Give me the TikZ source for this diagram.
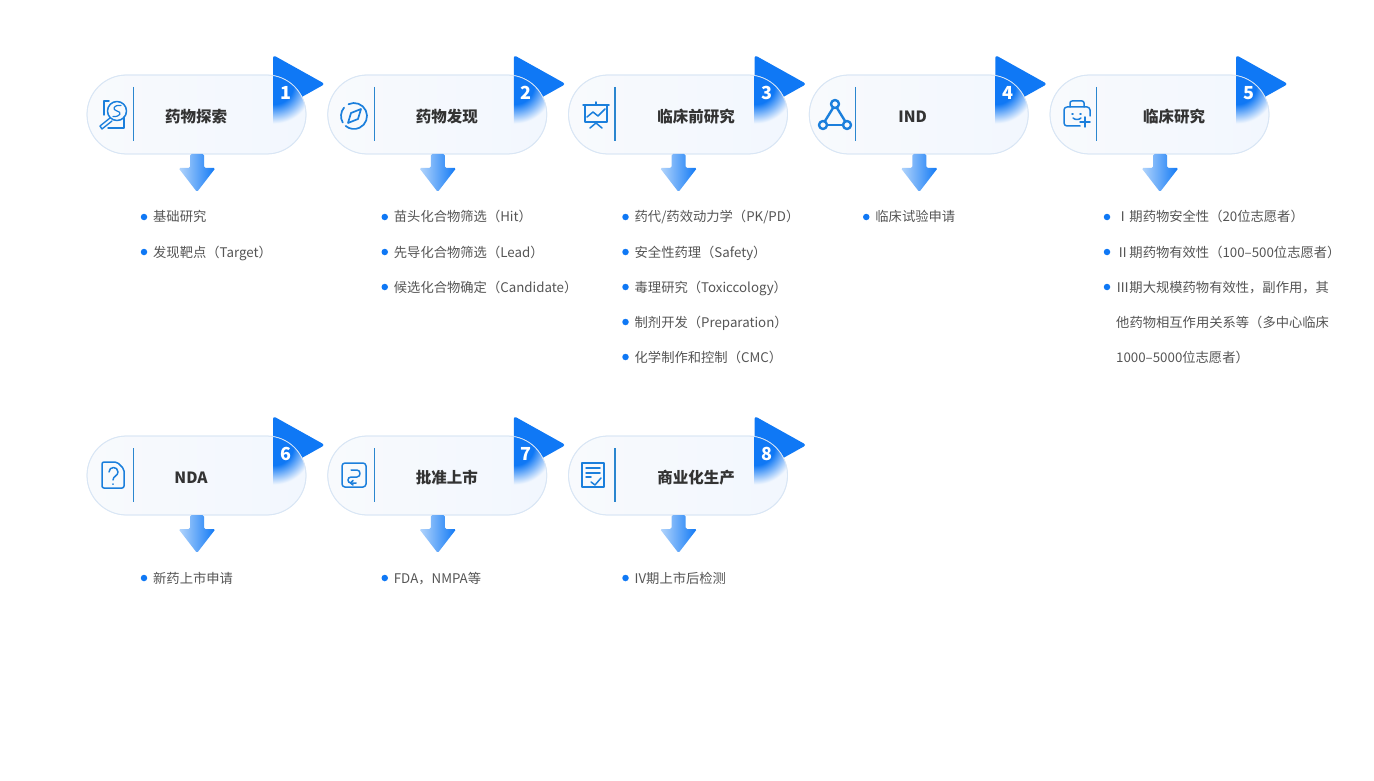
\documentclass[tikz,border=0pt]{standalone}
\usepackage{fontspec}
\usetikzlibrary{positioning}
\usetikzlibrary{calc}
\newfontfamily\cjk{Noto Sans CJK SC}
\definecolor{tabblue}{HTML}{0F78F5}
\definecolor{iconblue}{HTML}{1B7FDC}
\definecolor{lineblue}{HTML}{2B86CF}
\definecolor{pillleft}{HTML}{F8FAFD}
\definecolor{pillright}{HTML}{F2F7FE}
\definecolor{pilledge}{HTML}{D9E6F5}
\definecolor{itemgray}{HTML}{555555}
\definecolor{titlegray}{HTML}{333333}
\definecolor{arrowpale}{HTML}{B5D6FC}
\definecolor{arrowmid}{HTML}{1F80F5}
\pgfdeclareradialshading{tabglow}{\pgfpoint{0bp}{0bp}}{
  color(0bp)=(tabblue); color(12bp)=(tabblue); color(24bp)=(pillright); color(50bp)=(pillright)
}
\def\xsep{240.75}
\def\ysep{35}
\def\rowsep{361}
\newcommand\listline[4]{
  \node[dot] (D#1#2#3) at (144+#1*\xsep, 217+#2*\rowsep+#3*\ysep) {};
  \node[itemtext, right=5.5pt of D#1#2#3] (T#1#2#3) {#4};
}

\begin{document}
\begin{tikzpicture}[
    x=1pt, y=-1pt,
    pillbox/.style={
      minimum width=219pt, minimum height=79pt, inner sep=0pt, outer sep=0pt,
      rounded corners=39.5pt, draw=pilledge, line width=.8pt,
      left color=pillleft, right color=pillright
    },
    divider/.style={lineblue, line width=1.1pt},
    downarrow/.style={
      left color=arrowpale, middle color=arrowmid, right color=tabblue
    },
    icon/.style={iconblue, line width=1.5pt, line cap=round, line join=round},
    titletext/.style={font=\cjk\fontsize{15.5}{16}\selectfont\bfseries, text=titlegray, inner sep=0pt},
    numtext/.style={font=\cjk\fontsize{18}{18}\selectfont\bfseries, text=white, inner sep=0pt},
    itemtext/.style={font=\cjk\fontsize{13.3}{14}\selectfont, text=itemgray, inner sep=0pt,
      text height=12.5pt, text depth=2.5pt},
    dot/.style={circle, fill=tabblue, minimum size=6.5pt, inner sep=0pt}
  ]
    \useasboundingbox (0,0) rectangle (1374,781);
    \fill[white] (0,0) rectangle (1374,781);

    % pills
    \foreach \n/\c/\r/\ttl/\tx in {
        1/0/0/药物探索/109, 2/1/0/药物发现/119, 3/2/0/临床前研究/127.5, 4/3/0/IND/103.5, 5/4/0/临床研究/124,
        6/0/1/NDA/104, 7/1/1/批准上市/119, 8/2/1/商业化生产/127.5} {
      \coordinate (C\n) at (87+\c*\xsep, 75+\r*\rowsep);
      \fill[tabblue, rounded corners=3pt] ($(C\n)+(186,-20)$) -- ($(C\n)+(238,9)$) -- ($(C\n)+(186,38)$) -- cycle;
      \node[pillbox, anchor=north west] (P\n) at (C\n) {};
      \begin{scope}
        \clip[rounded corners=39.5pt] (P\n.south west) rectangle (P\n.north east);
        \clip ($(C\n)+(186,0)$) rectangle ($(C\n)+(219,79)$);
        \shade[shading=tabglow] ($(C\n)+(187,10)$) circle (40);
      \end{scope}
      \draw[pilledge, line width=.7pt, rounded corners=39.5pt] (P\n.south west) rectangle (P\n.north east);
      \draw[divider] ($(C\n)+(46.5,12)$) -- ($(C\n)+(46.5,66)$);
      \node[titletext] (H\n) at ($(C\n)+(\tx,41.5)$) {\ttl};
      \node[numtext] (N\n) at ($(C\n)+(198.5,18)$) {\n};
      \coordinate (A\n) at ($(P\n.south)+(.5,0)$);
      \shade[downarrow, rounded corners=1.5pt] ($(A\n)+(-7,0)$) -- ($(A\n)+(-7,14)$) -- ($(A\n)+(-18.5,14)$)
        -- ($(A\n)+(0,38)$) -- ($(A\n)+(18.5,14)$) -- ($(A\n)+(7,14)$) -- ($(A\n)+(7,0)$) -- cycle;
    }

    % icons
    \draw[icon] (109,101) -- (104,101) -- (104,115);
    \draw[icon] (108,128) -- (124,128) -- (124,117);
    \draw[icon] (117,111) circle (9.5);
    \draw[icon, line width=1.2pt] (121,105.5) .. controls (113,104.5) and (112,110) .. (117,111)
      .. controls (122,112) and (121,117) .. (113,116.5);
    \draw[icon, line width=1.4pt] (110,118) -- (100,126) -- (102,129) -- (112,121);

    \draw[icon, line width=1.7pt] (354,116) ++(-115:13) arc[start angle=-115, end angle=130, radius=13];
    \draw[icon, line width=1.7pt] (354,116) ++(150:13) arc[start angle=150, end angle=220, radius=13];
    \draw[icon, line width=1.7pt] (361,109) -- (358,119) -- (348,123) -- (351,113) -- cycle;

    \draw[icon] (583,105) -- (609,105);
    \draw[icon] (585,105) -- (585,122) -- (607,122) -- (607,105);
    \draw[icon] (596,102) -- (596,105);
    \draw[icon] (587,117) -- (593,112) -- (598,116) -- (605,109);
    \draw[icon] (590,128) -- (596,123) -- (602,128);

    \draw[icon, line width=2.4pt] (835,104) circle (4);
    \draw[icon, line width=2.4pt] (823,125) circle (4);
    \draw[icon, line width=2.4pt] (847,125) circle (4);
    \draw[icon, line width=2.4pt] (833,108) -- (825,121);
    \draw[icon, line width=2.4pt] (837,108) -- (845,121);
    \draw[icon, line width=2.4pt] (827,125) -- (843,125);

    \draw[icon, rounded corners=3pt] (1080,126) -- (1064,126) -- (1064,107) -- (1090,107) -- (1090,116);
    \draw[icon, rounded corners=2pt] (1070,107) -- (1070,101) -- (1084,101) -- (1084,107);
    \draw[icon] (1072,114) -- (1073,114);
    \draw[icon] (1080,114) -- (1081,114);
    \draw[icon] (1073,118) .. controls (1075,120) and (1079,120) .. (1081,118);
    \draw[icon] (1080,122) -- (1090,122);
    \draw[icon] (1085,117) -- (1085,127);

    \draw[icon, rounded corners=2pt] (102,462) -- (117,462) -- (124,469) -- (124,488) -- (102,488) -- cycle;
    \draw[icon] (109,472) .. controls (109,466) and (118,466) .. (118,472) .. controls (118,476) and (113,476) .. (113,480);
    \draw[icon] (113,484) -- (113,484.2);

    \draw[icon, rounded corners=3pt] (342,463) rectangle (366,487);
    \draw[icon] (351,470) -- (357,470) .. controls (361,470) and (361,477) .. (357,477) -- (351,477)
      .. controls (347,477) and (347,483) .. (351,483) -- (356,483);
    \draw[icon] (353,480.5) -- (350.5,483) -- (353,485);

    \draw[icon] (582,463) rectangle (604,487);
    \draw[icon] (586,468) -- (600,468);
    \draw[icon] (586,473) -- (600,473);
    \draw[icon] (586,477) -- (591,477);
    \draw[icon] (591,482) -- (595,485) -- (601,478);

    % lists
    \listline{0}{0}{0}{基础研究}
    \listline{0}{0}{1}{发现靶点（Target）}
    \listline{1}{0}{0}{苗头化合物筛选（Hit）}
    \listline{1}{0}{1}{先导化合物筛选（Lead）}
    \listline{1}{0}{2}{候选化合物确定（Candidate）}
    \listline{2}{0}{0}{药代/药效动力学（PK/PD）}
    \listline{2}{0}{1}{安全性药理（Safety）}
    \listline{2}{0}{2}{毒理研究（Toxiccology）}
    \listline{2}{0}{3}{制剂开发（Preparation）}
    \listline{2}{0}{4}{化学制作和控制（CMC）}
    \listline{3}{0}{0}{临床试验申请}
    \listline{4}{0}{0}{Ⅰ期药物安全性（20位志愿者）}
    \listline{4}{0}{1}{Ⅱ期药物有效性（100–500位志愿者）}
    \listline{4}{0}{2}{Ⅲ期大规模药物有效性，副作用，其}
    \node[itemtext, anchor=west] (T5b) at (1116,322) {他药物相互作用关系等（多中心临床};
    \node[itemtext, anchor=west] (T5c) at (1116,357) {1000–5000位志愿者）};
    \listline{0}{1}{0}{新药上市申请}
    \listline{1}{1}{0}{FDA，NMPA等}
    \listline{2}{1}{0}{IV期上市后检测}
\end{tikzpicture}
\end{document}
